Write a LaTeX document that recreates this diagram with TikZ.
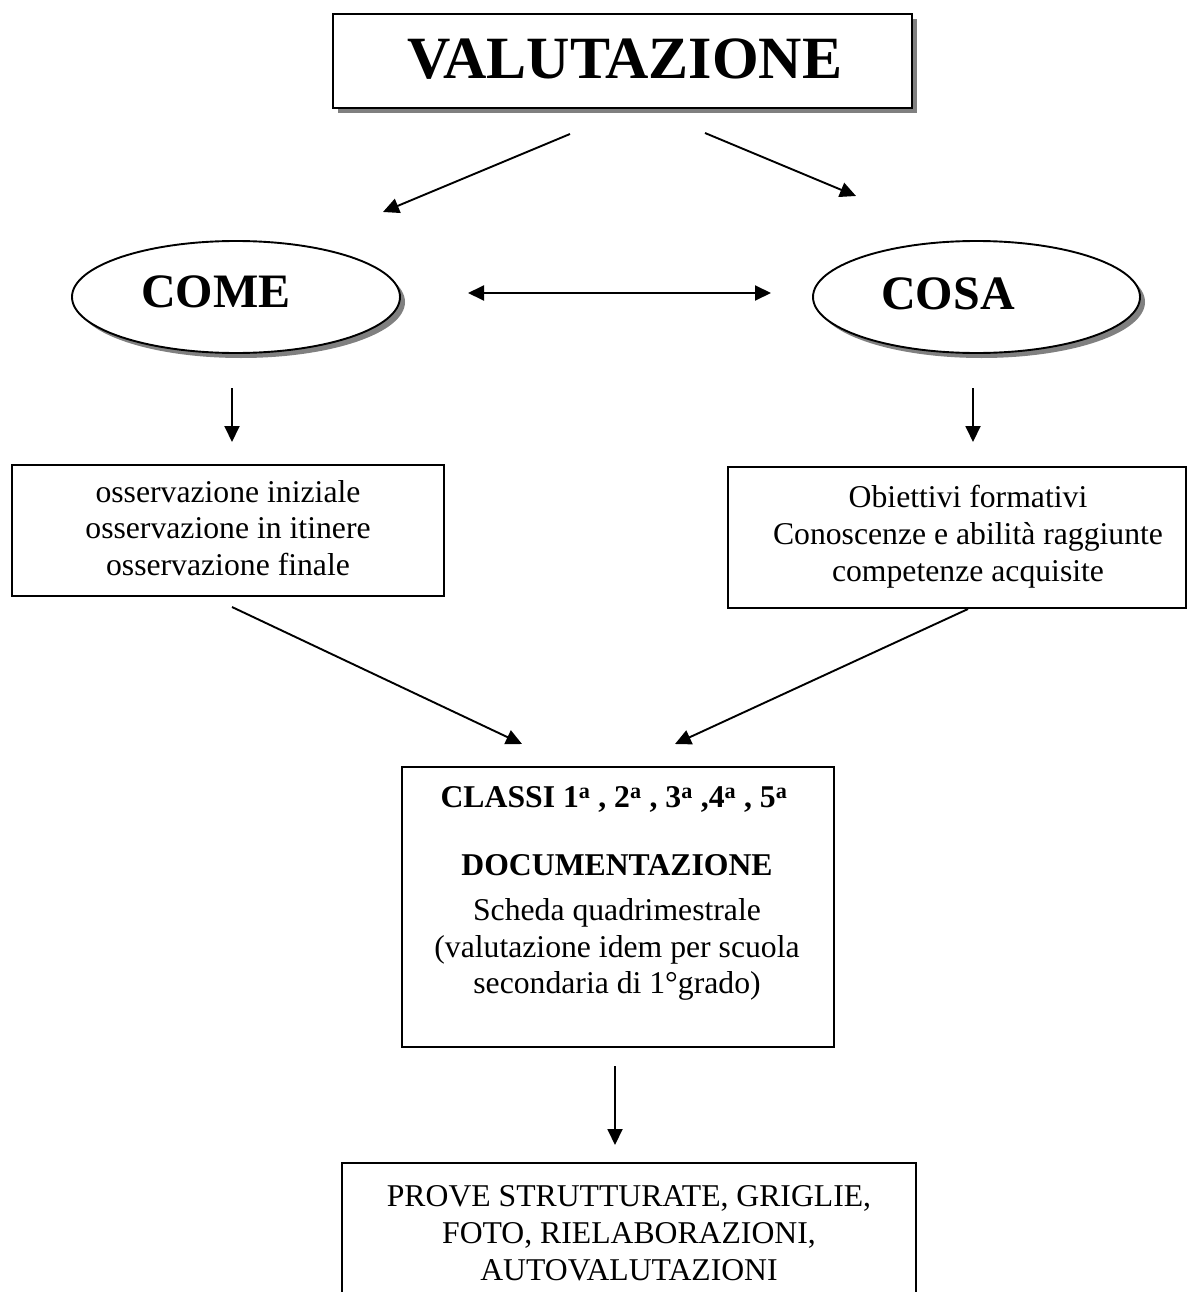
\documentclass[tikz,border=0pt]{standalone}
\usepackage{fontspec}
\setmainfont{Liberation Serif}
\usetikzlibrary{shapes.geometric,shadows,arrows.meta,calc}

\tikzset{
  frame/.style={draw=black, line width=1.9pt, fill=white, inner sep=0pt, outer sep=0pt},
  oval/.style={ellipse, draw=black, line width=1.9pt, fill=white, inner sep=0pt, outer sep=0pt},
  shadowed/.style={drop shadow={shadow xshift=5pt, shadow yshift=-5pt, fill=black!50, opacity=1}},
  link/.style={line width=1.9pt, -{Triangle[length=16pt,width=15pt]}},
  twoway/.style={line width=1.9pt, {Triangle[length=16pt,width=15pt]}-{Triangle[length=16pt,width=15pt]}},
  body/.style={font=\fontsize{31.7}{36.8}\selectfont, align=center, inner sep=0pt},
  bold/.style={font=\bfseries\fontsize{31.7}{36.8}\selectfont, inner sep=0pt},
  title/.style={font=\bfseries\fontsize{60}{70}\selectfont, inner sep=0pt},
  ovaltext/.style={font=\bfseries\fontsize{48}{56}\selectfont, inner sep=0pt},
}

\begin{document}
\begin{tikzpicture}[x=1pt,y=-1pt]
\useasboundingbox (0,0) rectangle (1198,1292);

% title box
\node[frame, shadowed, minimum width=579pt, minimum height=94pt] (val) at (622.5,61) {};
\node[title] (valtxt) at (625,59) {VALUTAZIONE};

% the two ovals
\node[oval, shadowed, minimum width=328pt, minimum height=112pt] (come) at (236,297) {};
\node[ovaltext] (cometxt) at (216,292) {COME};
\node[oval, shadowed, minimum width=327pt, minimum height=112pt] (cosa) at (976.5,297) {};
\node[ovaltext] (cosatxt) at (948,294) {COSA};

% boxes under the ovals
\node[frame, minimum width=432pt, minimum height=131pt] (obs) at (228,530.5) {};
\node[body] (obstxt) at (228,528) {osservazione iniziale\\osservazione in itinere\\osservazione finale};
\node[frame, minimum width=458pt, minimum height=141pt] (obj) at (957,537.5) {};
\node[body] (objtxt) at (968,536.5) {Obiettivi formativi\\Conoscenze e abilità raggiunte\\competenze acquisite};

% documentation box
\node[frame, minimum width=432pt, minimum height=280pt] (doc) at (618,907) {};
\node[bold, anchor=base] (classi) at (614,807.5) {CLASSI 1\textsuperscript{a} , 2\textsuperscript{a} , 3\textsuperscript{a} ,4\textsuperscript{a} , 5\textsuperscript{a}};
\node[bold, anchor=base] (doctitle) at (617,875.5) {DOCUMENTAZIONE};
\node[body] (doctxt) at (617,949.5) {Scheda quadrimestrale\\(valutazione idem per scuola\\secondaria di 1°grado)};

% bottom box, running past the lower edge
\node[frame, minimum width=574pt, minimum height=160pt] (prove) at (629,1243) {};
\node[body] (provetxt) at (629,1233) {PROVE STRUTTURATE, GRIGLIE,\\FOTO, RIELABORAZIONI,\\AUTOVALUTAZIONI};

% arrow end points
\coordinate (vc1) at ($(val.south)+(-52.5,26)$);
\coordinate (vc2) at ($(come.north)+(147,-29)$);
\coordinate (vs1) at ($(val.south)+(82.5,25)$);
\coordinate (vs2) at ($(cosa.north)+(-120.5,-45)$);
\coordinate (h1) at ($(come.east)+(68,-4)$);
\coordinate (h2) at ($(cosa.west)+(-42,-4)$);
\coordinate (d1) at ($(come.south)+(-4,35)$);
\coordinate (d2) at ($(obs.north)+(4,-23)$);
\coordinate (e1) at ($(cosa.south)+(-3.5,35)$);
\coordinate (e2) at ($(obj.north)+(16,-25)$);
\coordinate (f1) at ($(obs.south)+(4,11)$);
\coordinate (f2) at ($(doc.north)+(-96,-23)$);
\coordinate (g1) at ($(obj.south)+(11,1)$);
\coordinate (g2) at ($(doc.north)+(57,-23)$);
\coordinate (k1) at ($(doc.south)+(-3,19)$);
\coordinate (k2) at ($(prove.north)+(-14,-18)$);

% connectors
\draw[link] (vc1) -- (vc2);
\draw[link] (vs1) -- (vs2);
\draw[twoway] (h1) -- (h2);
\draw[link] (d1) -- (d2);
\draw[link] (e1) -- (e2);
\draw[link] (f1) -- (f2);
\draw[link] (g1) -- (g2);
\draw[link] (k1) -- (k2);
\end{tikzpicture}
\end{document}
